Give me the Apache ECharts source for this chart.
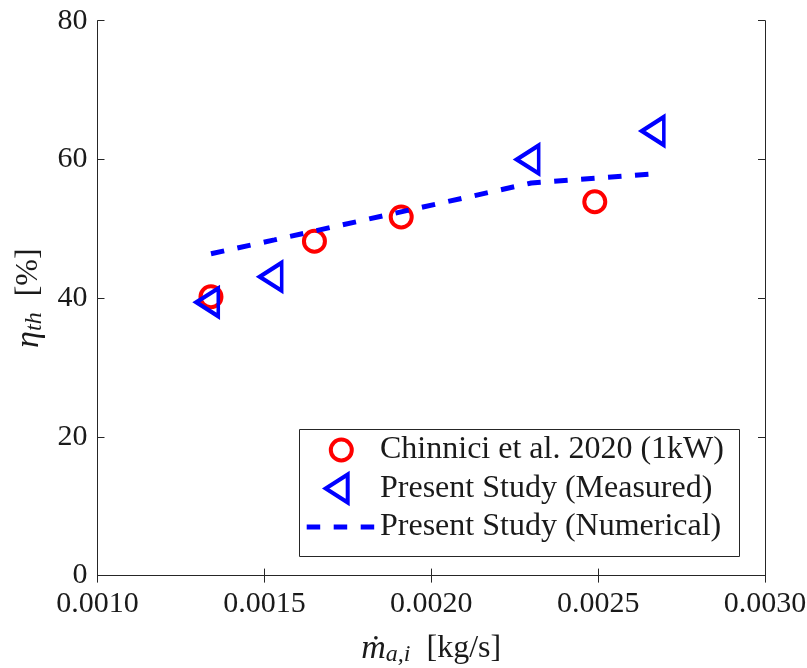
<!DOCTYPE html>
<html>
<head>
<meta charset="utf-8">
<script src="https://cdn.jsdelivr.net/npm/echarts@6/dist/echarts.min.js"></script>
<style>
  html, body { margin: 0; padding: 0; background: #fff; }
  #chart { width: 807px; height: 668px; }
</style>
</head>
<body>
<div id="chart"></div>
<script>
// Air mass flow rate [kg/s] vs. thermal efficiency [%]
const chinniciFlow = [0.00134, 0.00165, 0.00191, 0.00249];
const chinniciEff  = [40.2, 48.2, 51.7, 53.9];

const measuredFlow = [0.00134, 0.00153, 0.00230, 0.002675];
const measuredEff  = [39.4, 43.1, 60.0, 64.1];

const numericalFlow = [0.00134, 0.00153, 0.00230, 0.002675];
const numericalEff  = [46.4, 48.4, 56.6, 57.95];

const seriesNames = [
  'Chinnici et al. 2020 (1kW)',
  'Present Study (Measured)',
  'Present Study (Numerical)'
];

const xTicks = { min: 0.0010, max: 0.0030, step: 0.0005 };
const yTicks = { min: 0, max: 80, step: 20 };

const FONT = '"Liberation Serif", "DejaVu Serif", serif';
const INK = '#1a1a1a';
const AXIS = '#262626';
const RED = '#ff0000';
const BLUE = '#0000ff';
const DASH = [13.5, 13.5];

const pairs = (xs, ys) => xs.map((x, i) => [x, ys[i]]);

const rich = {
  it:  { fontFamily: FONT, fontStyle: 'italic', fontSize: 34, lineHeight: 36, color: INK },
  sub: { fontFamily: FONT, fontStyle: 'italic', fontSize: 24, lineHeight: 16, verticalAlign: 'bottom', color: INK },
  rm:  { fontFamily: FONT, fontSize: 32, lineHeight: 36, color: INK }
};

const axisCommon = {
  axisLine: { show: true, lineStyle: { color: AXIS, width: 1 } },
  axisTick: { show: true, inside: true, length: 7, lineStyle: { color: AXIS, width: 1 } },
  splitLine: { show: false }
};

const legendText = { fontFamily: FONT, fontSize: 32, color: INK, lineHeight: 30 };

const chart = echarts.init(document.getElementById('chart'), null, { renderer: 'canvas' });

chart.setOption({
  animation: false,
  backgroundColor: '#ffffff',
  grid: {
    left: 97.5, right: 42, top: 20.7, bottom: 92.4,
    containLabel: false, outerBoundsMode: 'none'
  },
  xAxis: [
    Object.assign({
      type: 'value', position: 'bottom',
      min: xTicks.min, max: xTicks.max, interval: xTicks.step,
      axisLabel: {
        show: true, margin: 14, color: INK, fontFamily: FONT, fontSize: 30, lineHeight: 30,
        formatter: v => v.toFixed(4)
      },
      name: '{it|ṁ}{sub|a,i}{rm|  [kg/s]}',
      nameLocation: 'middle', nameGap: 55,
      nameTextStyle: { rich: rich }
    }, axisCommon),
    Object.assign({
      type: 'value', position: 'top',
      min: xTicks.min, max: xTicks.max, interval: xTicks.step,
      axisLabel: { show: false }
    }, axisCommon)
  ],
  yAxis: [
    Object.assign({
      type: 'value', position: 'left',
      min: yTicks.min, max: yTicks.max, interval: yTicks.step,
      axisLabel: { show: true, margin: 10, color: INK, fontFamily: FONT, fontSize: 30 },
      name: '{it|η}{sub|th}{rm|  [%]}',
      nameLocation: 'middle', nameGap: 43,
      nameTextStyle: { rich: rich }
    }, axisCommon),
    Object.assign({
      type: 'value', position: 'right',
      min: yTicks.min, max: yTicks.max, interval: yTicks.step,
      axisLabel: { show: false }
    }, axisCommon)
  ],
  graphic: [{
    type: 'rect', z: 50, silent: true,
    shape: { x: 299.5, y: 429.5, width: 440, height: 127 },
    style: { fill: '#ffffff', stroke: AXIS, lineWidth: 1 }
  }],
  legend: [
    {
      z: 60, left: 328.8, top: 434, padding: 0,
      itemWidth: 67.4, itemHeight: 21,
      textStyle: legendText,
      selectedMode: false,
      data: [{
        name: seriesNames[0], icon: 'circle',
        itemStyle: { color: 'rgba(0,0,0,0)', borderColor: RED, borderWidth: 4 }
      }]
    },
    {
      z: 60, left: 323.7, top: 472.5, padding: 0,
      itemWidth: 76.6, itemHeight: 28,
      textStyle: legendText,
      selectedMode: false,
      data: [{
        name: seriesNames[1], icon: 'path://M0,14L22,0L22,28Z',
        itemStyle: { color: 'rgba(0,0,0,0)', borderColor: BLUE, borderWidth: 4 }
      }]
    },
    {
      z: 60, left: 304.2, top: 511, padding: 0,
      itemWidth: 68.3, itemHeight: 20,
      textStyle: legendText,
      selectedMode: false,
      itemStyle: { color: 'rgba(0,0,0,0)', borderColor: 'rgba(0,0,0,0)', borderWidth: 0, opacity: 0 },
      lineStyle: { color: BLUE, width: 5, type: DASH, cap: 'butt', opacity: 1 },
      data: [{ name: seriesNames[2] }]
    }
  ],
  series: [
    {
      name: seriesNames[0], type: 'scatter',
      xAxisIndex: 0, yAxisIndex: 0,
      data: pairs(chinniciFlow, chinniciEff),
      symbol: 'circle', symbolSize: 21,
      itemStyle: { color: 'rgba(0,0,0,0)', borderColor: RED, borderWidth: 4, opacity: 1 },
      emphasis: { disabled: true }
    },
    {
      name: seriesNames[1], type: 'scatter',
      xAxisIndex: 0, yAxisIndex: 0,
      data: pairs(measuredFlow, measuredEff),
      symbol: 'triangle', symbolSize: [28, 22], symbolRotate: 90, symbolOffset: [-3.7, 0],
      itemStyle: { color: 'rgba(0,0,0,0)', borderColor: BLUE, borderWidth: 4, opacity: 1 },
      emphasis: { disabled: true }
    },
    {
      name: seriesNames[2], type: 'line',
      xAxisIndex: 0, yAxisIndex: 0,
      data: pairs(numericalFlow, numericalEff),
      symbol: 'none', showSymbol: false,
      lineStyle: { color: BLUE, width: 5, type: DASH, cap: 'butt' },
      emphasis: { disabled: true }
    }
  ]
});
</script>
</body>
</html>
